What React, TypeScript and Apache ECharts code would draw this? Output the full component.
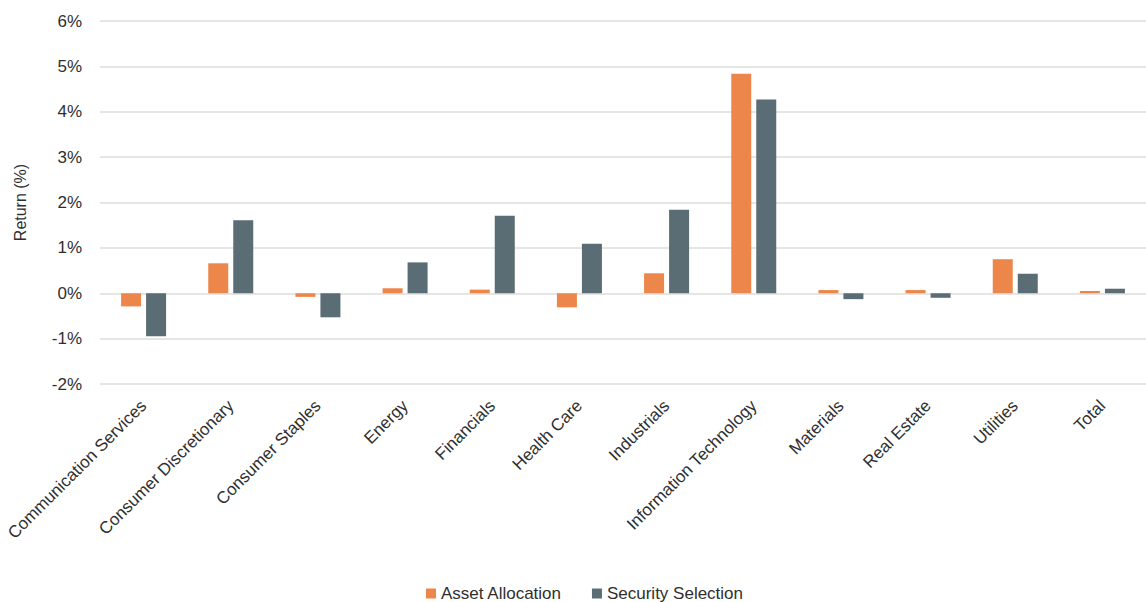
import React, { useEffect, useRef } from "react";
import * as echarts from "echarts";

const categories = [
  "Communication Services",
  "Consumer Discretionary",
  "Consumer Staples",
  "Energy",
  "Financials",
  "Health Care",
  "Industrials",
  "Information Technology",
  "Materials",
  "Real Estate",
  "Utilities",
  "Total",
];

const assetAllocation = [-0.29, 0.66, -0.08, 0.11, 0.08, -0.31, 0.44, 4.84, 0.07, 0.07, 0.75, 0.05];
const securitySelection = [-0.95, 1.61, -0.53, 0.68, 1.71, 1.09, 1.84, 4.27, -0.13, -0.1, 0.43, 0.1];

const yMin = -2;
const yMax = 6;
const yStep = 1;

const FONT = "'Liberation Sans', Arial, Helvetica, sans-serif";
const ORANGE = "#ED864A";
const SLATE = "#5A6C74";
const TEXT = "#2f2f2f";

export default function App() {
  const ref = useRef<HTMLDivElement>(null);

  useEffect(() => {
    if (!ref.current) return;
    const chart = echarts.init(ref.current, undefined, { renderer: "svg" });
    chart.setOption({
      animation: false,
      backgroundColor: "#ffffff",
      textStyle: { fontFamily: FONT },
      grid: { left: 100, right: 0, top: 21, bottom: 218, containLabel: false },
      legend: {
        top: 580,
        left: 421,
        itemWidth: 10,
        itemHeight: 10,
        itemGap: 30,
        icon: "rect",
        textStyle: { fontSize: 17, color: TEXT, fontFamily: FONT },
        data: ["Asset Allocation", "Security Selection"],
      },
      xAxis: {
        type: "category",
        data: categories,
        axisLine: { show: false },
        axisTick: { show: false },
        axisLabel: {
          rotate: 45,
          interval: 0,
          margin: 19,
          fontSize: 17,
          color: TEXT,
          fontFamily: FONT,
        },
      },
      yAxis: {
        type: "value",
        min: yMin,
        max: yMax,
        interval: yStep,
        name: "Return (%)",
        nameLocation: "middle",
        nameGap: 72,
        nameTextStyle: { fontSize: 16, color: TEXT, fontFamily: FONT },
        axisLine: { show: false },
        axisTick: { show: false },
        axisLabel: {
          formatter: (v: number) => `${v}%`,
          fontSize: 17,
          color: TEXT,
          margin: 18,
          fontFamily: FONT,
        },
        splitLine: { lineStyle: { color: "#dcdcdc", width: 1.5 } },
      },
      series: [
        {
          name: "Asset Allocation",
          type: "bar",
          data: assetAllocation,
          barWidth: 20,
          barGap: "25%",
          itemStyle: { color: ORANGE },
        },
        {
          name: "Security Selection",
          type: "bar",
          data: securitySelection,
          barWidth: 20,
          itemStyle: { color: SLATE },
        },
      ],
    });
    return () => chart.dispose();
  }, []);

  return (
    <div
      ref={ref}
      style={{ position: "fixed", left: 0, top: 0, width: 1146, height: 602 }}
    />
  );
}
